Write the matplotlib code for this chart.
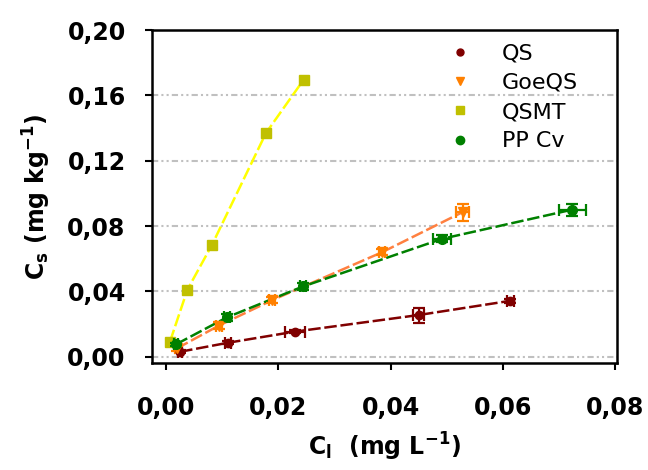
import numpy as np
import matplotlib.pyplot as plt
from matplotlib.ticker import FuncFormatter, MultipleLocator

# ============================================================
# Daten
# ============================================================
qs_x    = [0.0025, 0.0110, 0.0229, 0.0450, 0.0613]
qs_y    = [0.0030, 0.0085, 0.0153, 0.0255, 0.0342]
qs_xerr = [0.0003, 0.0005, 0.0018, 0.0010, 0.0006]
qs_yerr = [0.0010, 0.0008, 0.0010, 0.0046, 0.0012]

goe_x    = [0.0019, 0.0094, 0.0189, 0.0385, 0.0528]
goe_y    = [0.0050, 0.0190, 0.0346, 0.0640, 0.0885]
goe_xerr = [0.0003, 0.0005, 0.0005, 0.0005, 0.0012]
goe_yerr = [0.0015, 0.0020, 0.0020, 0.0020, 0.0052]

qsmt_x = [0.0007, 0.0038, 0.0082, 0.0178, 0.0245]
qsmt_y = [0.0092, 0.0410, 0.0686, 0.1370, 0.1696]

pp_x    = [0.0018, 0.0108, 0.0244, 0.0492, 0.0723]
pp_y    = [0.0076, 0.0240, 0.0430, 0.0722, 0.0900]
pp_xerr = [0.0003, 0.0005, 0.0005, 0.0016, 0.0024]
pp_yerr = [0.0010, 0.0020, 0.0020, 0.0020, 0.0037]

labels = ["QS", "GoeQS", "QSMT", "PP Cv"]

# ============================================================
# Plot
# ============================================================
plt.rcParams["font.family"] = ["DejaVu Sans"]
fig = plt.figure(figsize=(6.48, 4.70), dpi=100)
ax = fig.add_axes([0.2346, 0.2283, 0.7175, 0.7077])

dash = (0, (5, 1.5))

# Linien (verbinden die Messpunkte)
ax.plot(qs_x, qs_y, color="#800000", lw=1.8, ls=dash, zorder=2)
ax.plot(goe_x, goe_y, color="#FF8040", lw=1.8, ls=dash, zorder=2)
ax.plot(qsmt_x, qsmt_y, color="#FFFF00", lw=1.8, ls=dash, zorder=2)
ax.plot(pp_x, pp_y, color="#008000", lw=1.8, ls=dash, zorder=2)

# Messpunkte mit Fehlerbalken
ax.errorbar(qs_x, qs_y, xerr=qs_xerr, yerr=qs_yerr, fmt="o", color="#800000",
            ms=6, capsize=4, elinewidth=1.6, capthick=1.6, zorder=3)
ax.errorbar(goe_x, goe_y, xerr=goe_xerr, yerr=goe_yerr, fmt="v", color="#FF8000",
            ms=7, capsize=4, elinewidth=1.6, capthick=1.6, zorder=3)
ax.plot(qsmt_x, qsmt_y, "s", color="#C0C000", ms=7, zorder=3)
ax.errorbar(pp_x, pp_y, xerr=pp_xerr, yerr=pp_yerr, fmt="o", color="#008000",
            ms=7, capsize=4, elinewidth=1.6, capthick=1.6, zorder=3)

# Legende (nur Marker)
h = [
    ax.plot([], [], "o", color="#800000", ms=5)[0],
    ax.plot([], [], "v", color="#FF8000", ms=6)[0],
    ax.plot([], [], "s", color="#C0C000", ms=6)[0],
    ax.plot([], [], "o", color="#008000", ms=6)[0],
]
ax.legend(h, labels, loc="upper right", bbox_to_anchor=(0.945, 1.0), frameon=False,
          fontsize=16, handletextpad=0.9, labelspacing=0.42, borderaxespad=0.2)

# Achsen
ax.set_xlim(-0.0025, 0.0803)
ax.set_ylim(-0.0037, 0.20)
ax.xaxis.set_major_locator(MultipleLocator(0.02))
ax.yaxis.set_major_locator(MultipleLocator(0.04))
komma = FuncFormatter(lambda v, p: f"{v:.2f}".replace(".", ","))
ax.xaxis.set_major_formatter(komma)
ax.yaxis.set_major_formatter(komma)
ax.tick_params(direction="out", length=5, width=1.5, labelsize=17)
ax.tick_params(axis="y", pad=14)
ax.tick_params(axis="x", pad=19)
for t in ax.get_xticklabels() + ax.get_yticklabels():
    t.set_fontweight("bold")

ax.grid(axis="y", color="#C0C0C0", lw=1.5, ls=(0, (3, 1.5, 1, 1.5, 1, 1.5)))
ax.set_axisbelow(True)
for s in ax.spines.values():
    s.set_linewidth(1.8)

ax.set_xlabel(r"$\mathbf{C_l}$  (mg L$^{\mathbf{-1}}$)", fontsize=17, fontweight="bold", labelpad=8)
ax.set_ylabel(r"$\mathbf{C_s}$ (mg kg$^{\mathbf{-1}}$)", fontsize=17, fontweight="bold", labelpad=10)

fig.savefig("out.png", dpi=100)
